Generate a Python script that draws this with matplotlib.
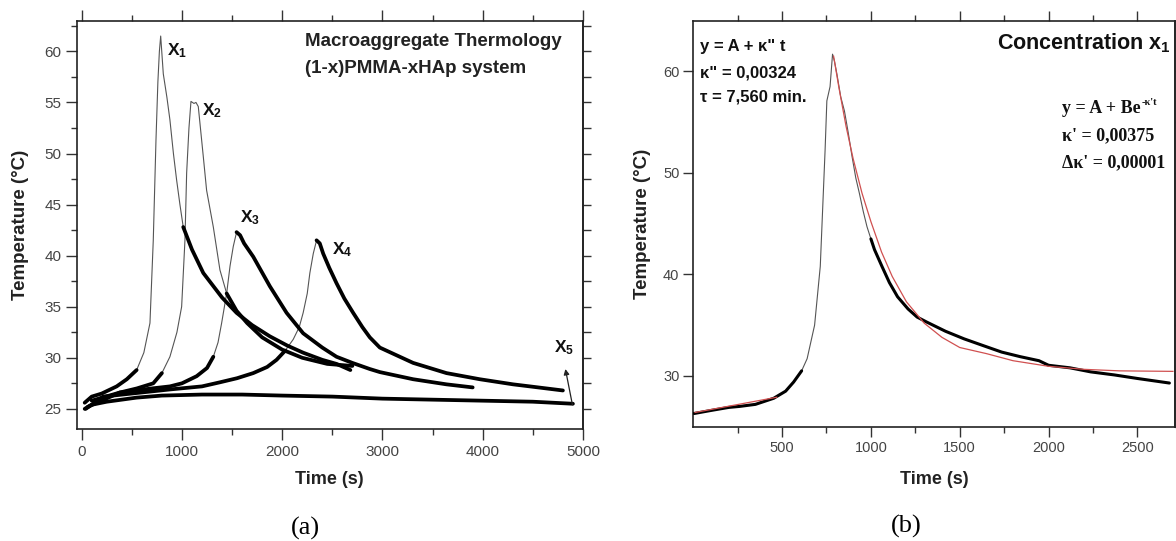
import numpy as np
import matplotlib
matplotlib.use("Agg")
import matplotlib.pyplot as plt
from matplotlib.ticker import FixedLocator, MultipleLocator

plt.rcParams['font.family'] = ['Liberation Sans', 'DejaVu Sans']
plt.rcParams['mathtext.fontset'] = 'custom'
plt.rcParams['mathtext.bf'] = 'Liberation Sans:bold'
plt.rcParams['mathtext.rm'] = 'Liberation Sans'
plt.rcParams['mathtext.it'] = 'Liberation Sans:italic'

# ---- panel (a): five thermograms ----
x1_t = [30, 100, 200, 349, 450, 548, 620, 681, 714, 741, 760, 775, 788, 800, 814, 850, 880,
        915, 947, 980, 1013, 1100, 1213, 1400, 1545, 1700, 1877, 2050, 2209, 2400, 2542, 2680]
x1_T = [25.6, 26.2, 26.5, 27.2, 27.9, 28.8, 30.5, 33.4, 41.5, 51.3, 57.0, 60.0, 61.5, 59.8, 57.8,
        55.5, 53.3, 50.0, 47.4, 45.0, 42.8, 40.6, 38.3, 35.9, 34.4, 33.2, 32.1, 31.2, 30.5, 29.8,
        29.4, 28.8]

x2_t = [100, 381, 550, 714, 800, 880, 950, 997, 1030, 1047, 1070, 1090, 1120, 1140, 1163, 1213,
        1246, 1313, 1379, 1446, 1545, 1650, 1800, 2000, 2200, 2450, 2700]
x2_T = [25.8, 26.6, 27.0, 27.5, 28.5, 30.1, 32.5, 35.0, 41.5, 48.1, 52.5, 55.1, 54.9, 55.0, 54.6,
        49.7, 46.4, 42.8, 38.6, 36.3, 34.6, 33.4, 32.0, 30.8, 30.0, 29.4, 29.2]

x3_t = [60, 381, 700, 880, 1000, 1147, 1250, 1313, 1360, 1396, 1446, 1480, 1512, 1545, 1580, 1620,
        1711, 1877, 2044, 2209, 2400, 2542, 2700, 2874, 2974, 3306, 3639, 3900]
x3_T = [25.2, 26.6, 27.0, 27.2, 27.5, 28.2, 29.0, 30.1, 31.5, 33.4, 36.3, 39.0, 40.9, 42.3, 42.0,
        41.2, 39.9, 37.0, 34.4, 32.4, 31.0, 30.1, 29.5, 28.9, 28.6, 27.9, 27.4, 27.1]

x4_t = [40, 215, 500, 880, 1200, 1379, 1550, 1711, 1850, 1944, 2030, 2110, 2170, 2209, 2250, 2276,
        2310, 2343, 2375, 2409, 2470, 2542, 2620, 2708, 2800, 2874, 2974, 3306, 3639, 3971, 4303,
        4470, 4800]
x4_T = [25.0, 26.2, 26.5, 26.9, 27.2, 27.6, 28.0, 28.5, 29.1, 29.8, 30.7, 31.8, 33.0, 34.4, 36.3,
        38.3, 40.2, 41.5, 41.2, 40.2, 38.8, 37.3, 35.8, 34.4, 33.0, 32.0, 31.0, 29.5, 28.5, 27.9,
        27.4, 27.2, 26.8]

x5_t = [30, 100, 250, 548, 800, 1200, 1600, 2000, 2500, 3000, 3500, 4000, 4500, 4900]
x5_T = [25.0, 25.4, 25.7, 26.1, 26.3, 26.4, 26.4, 26.3, 26.2, 26.0, 25.9, 25.8, 25.7, 25.5]

runs_a = [(x1_t, x1_T, 44.0), (x2_t, x2_T, 37.0), (x3_t, x3_T, 99.0),
          (x4_t, x4_T, 99.0), (x5_t, x5_T, 99.0)]
run_names = ["1", "2", "3", "4", "5"]
label_pos = [(850, 59.6), (1196, 53.75), (1578, 43.3), (2492, 40.1), (4707, 30.5)]

# ---- panel (b): concentration x1 with fits ----
b_t = [5, 100, 200, 262, 350, 453, 520, 565, 610, 641, 683, 715, 742, 752, 770, 784, 795, 809,
       830, 851, 872, 894, 915, 935, 957, 978, 1000, 1020, 1062, 1104, 1150, 1209, 1260, 1315,
       1420, 1525, 1630, 1736, 1840, 1946, 2000, 2120, 2237, 2370, 2500, 2600, 2680]
b_T = [26.3, 26.6, 26.9, 27.0, 27.2, 27.8, 28.5, 29.4, 30.5, 31.7, 35.0, 40.8, 52.2, 57.1, 58.5,
       61.7, 61.0, 59.7, 57.5, 56.1, 54.0, 51.6, 49.5, 48.0, 46.2, 44.7, 43.5, 42.45, 40.8, 39.2,
       37.8, 36.6, 35.8, 35.3, 34.4, 33.65, 33.0, 32.35, 31.9, 31.5, 31.05, 30.8, 30.4, 30.1,
       29.75, 29.5, 29.3]

fit_lin_t = [10, 470]
fit_lin_T = [26.4, 27.9]
fit_exp_t = [790, 820, 860, 900, 950, 1000, 1060, 1120, 1200, 1300, 1400, 1500, 1650, 1800,
             2000, 2200, 2400, 2700]
fit_exp_T = [61.5, 58.4, 54.6, 51.4, 48.0, 45.2, 42.2, 39.8, 37.3, 35.2, 33.8, 32.8, 32.2, 31.5,
             30.95, 30.65, 30.5, 30.45]


def draw_run(ax, t, T, rise_thr, decay_thr, lw_thick):
    t = np.asarray(t, float)
    T = np.asarray(T, float)
    ax.plot(t, T, color='#555555', lw=0.8, zorder=2)
    ip = int(np.argmax(T))
    idx = np.arange(len(T))
    thick = ((idx <= ip) & (T < rise_thr)) | ((idx >= ip) & (T < decay_thr))
    ax.plot(t, np.where(thick, T, np.nan), color='black', lw=lw_thick,
            solid_capstyle='round', zorder=3)


def style_spines(ax):
    for s in ax.spines.values():
        s.set_color('#222222')
        s.set_linewidth(1.2)


fig = plt.figure(figsize=(11.76, 5.41), dpi=100)
fig.patch.set_facecolor('white')

# panel (a)
ax = fig.add_axes([0.0652, 0.2065, 0.4305, 0.7552])
for (t, T, dthr), name, pos in zip(runs_a, run_names, label_pos):
    draw_run(ax, t, T, 30.0 if dthr < 99 else 31.0, dthr, 2.7)
    ax.text(pos[0], pos[1], r'$\mathbf{X_{%s}}$' % name, fontsize=12.5,
            ha='left', va='baseline', color='#111111')
ax.annotate('', xy=(4825, 28.9), xytext=(4895, 25.4),
            arrowprops=dict(arrowstyle='-|>', color='#222222', lw=0.9,
                            mutation_scale=8, shrinkA=0, shrinkB=0))
ax.set_xlim(-50, 5000)
ax.set_ylim(23, 63)
ax.xaxis.set_major_locator(MultipleLocator(1000))
ax.xaxis.set_minor_locator(MultipleLocator(500))
ax.yaxis.set_major_locator(MultipleLocator(5))
ax.yaxis.set_minor_locator(MultipleLocator(2.5))
ax.tick_params(which='both', direction='out', top=True, right=False,
               color='#333333', labelcolor='#444444', labelsize=11, width=1.0)
ax.tick_params(which='major', length=8, pad=3)
ax.tick_params(which='minor', length=4)
sec = ax.secondary_yaxis('right')
sec.yaxis.set_major_locator(FixedLocator(np.arange(25, 62.6, 2.5)))
sec.tick_params(direction='out', length=6, width=1.0, color='#333333', labelright=False)
sec.spines['right'].set_color('#222222')
sec.spines['right'].set_linewidth(1.2)
style_spines(ax)
ax.set_xlabel('Time (s)', fontsize=13, fontweight='bold', color='#222222', va='center')
ax.xaxis.set_label_coords(0.5, -0.124)
ax.set_ylabel('Temperature (°C)', fontsize=13.5, fontweight='bold', color='#222222',
              va='center')
ax.yaxis.set_label_coords(-0.110, 0.5)
ax.text(0.451, 0.9486, 'Macroaggregate Thermology', transform=ax.transAxes,
        fontsize=13.5, fontweight='bold', ha='left', va='center', color='#222222')
ax.text(0.451, 0.8835, '(1-x)PMMA-xHAp system', transform=ax.transAxes,
        fontsize=13.5, fontweight='bold', ha='left', va='center', color='#222222')

# panel (b)
bx = fig.add_axes([0.5895, 0.2113, 0.4094, 0.7505])
draw_run(bx, b_t, b_T, 31.0, 44.0, 2.2)
bx.plot(fit_lin_t, fit_lin_T, color='#d05050', lw=0.9, zorder=4)
bx.plot(fit_exp_t, fit_exp_T, color='#d05050', lw=0.9, zorder=4)
bx.set_xlim(0, 2710)
bx.set_ylim(25, 65)
bx.xaxis.set_major_locator(FixedLocator([500, 1000, 1500, 2000, 2500]))
bx.xaxis.set_minor_locator(FixedLocator([250, 750, 1250, 1750, 2250]))
bx.yaxis.set_major_locator(FixedLocator([30, 40, 50, 60]))
bx.tick_params(which='both', direction='out', top=True, right=False,
               color='#333333', labelcolor='#444444', labelsize=10.5, width=1.0)
bx.tick_params(which='major', length=7, pad=3)
bx.tick_params(which='minor', length=4)
secb = bx.secondary_yaxis('right')
secb.yaxis.set_major_locator(FixedLocator(np.arange(25, 65.1, 5)))
secb.tick_params(direction='out', length=7, width=1.0, color='#333333', labelright=False)
secb.spines['right'].set_color('#222222')
secb.spines['right'].set_linewidth(1.2)
style_spines(bx)
bx.set_xlabel('Time (s)', fontsize=13, fontweight='bold', color='#222222', va='center')
bx.xaxis.set_label_coords(0.5, -0.129)
bx.set_ylabel('Temperature (°C)', fontsize=13.5, fontweight='bold', color='#222222',
              va='center')
bx.yaxis.set_label_coords(-0.1055, 0.5)

for y, s in zip([0.936, 0.872, 0.813], ['y = A + κ" t', 'κ" = 0,00324', 'τ = 7,560 min.']):
    bx.text(0.014, y, s, transform=bx.transAxes, fontsize=12, fontweight='bold',
            ha='left', va='center', color='#111111')
bx.text(0.992, 0.9296, r'Concentration $\mathbf{x_1}$', transform=bx.transAxes,
        fontsize=15.5, fontweight='bold', ha='right', va='baseline', color='#111111')

serif = ['Liberation Serif', 'DejaVu Serif']
t1 = bx.text(0.7653, 0.772, 'y = A + Be', transform=bx.transAxes, family=serif,
             fontsize=13, fontweight='bold', ha='left', va='baseline', color='#111111')
bx.annotate("-κ't", xy=(1.02, 0.62), xycoords=t1, family=serif, fontsize=7.5,
            fontweight='bold', ha='left', va='bottom', color='#111111')
bx.text(0.7653, 0.706, "κ' = 0,00375", transform=bx.transAxes, family=serif,
        fontsize=13, fontweight='bold', ha='left', va='baseline', color='#111111')
bx.text(0.7653, 0.640, "Δκ' = 0,00001", transform=bx.transAxes, family=serif,
        fontsize=13, fontweight='bold', ha='left', va='baseline', color='#111111')

fig.text(0.2594, 0.024, '(a)', family=serif, fontsize=19, ha='center', va='center')
fig.text(0.7704, 0.0277, '(b)', family=serif, fontsize=19, ha='center', va='center')

fig.savefig('out.png', dpi=100, facecolor='white')
plt.close(fig)
